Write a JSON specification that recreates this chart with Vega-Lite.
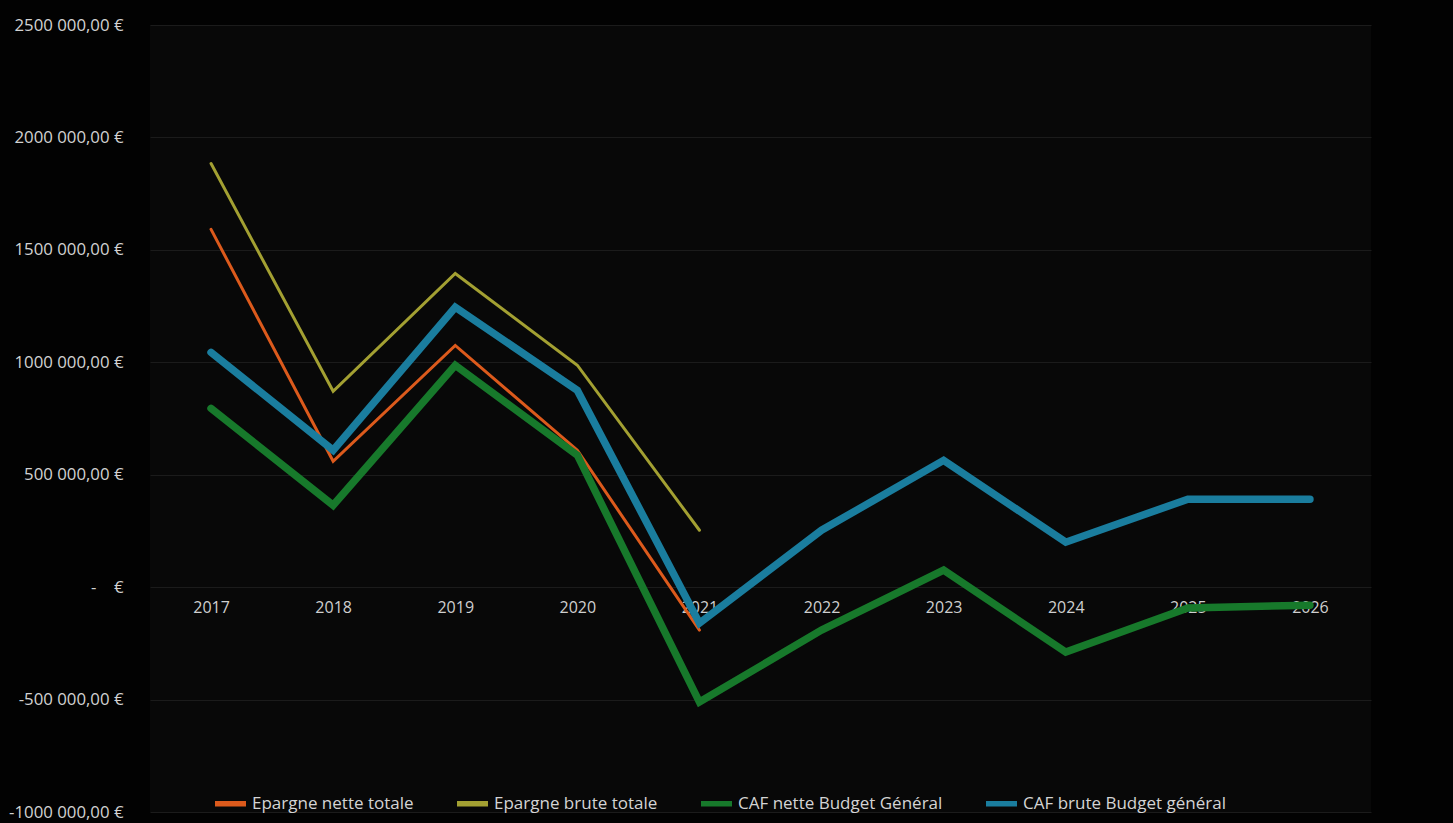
{
  "$schema": "https://vega.github.io/schema/vega-lite/v6.json",
  "autosize": {"type": "none"},
  "width": 1221,
  "height": 787,
  "padding": {"left": 150, "top": 25, "right": 82, "bottom": 11},
  "background": "#020202",
  "config": {
    "view": {"stroke": null, "fill": "#080808"},
    "font": "Open Sans",
    "axis": {"labelFont": "Open Sans", "labelColor": "#d2d2d2", "labelFontSize": 15}
  },
  "data": {
    "values": [
      {"annee": "2017", "serie": "Epargne nette totale", "montant": 1591000},
      {"annee": "2018", "serie": "Epargne nette totale", "montant": 560000},
      {"annee": "2019", "serie": "Epargne nette totale", "montant": 1075000},
      {"annee": "2020", "serie": "Epargne nette totale", "montant": 609000},
      {"annee": "2021", "serie": "Epargne nette totale", "montant": -191000},
      {"annee": "2017", "serie": "Epargne brute totale", "montant": 1884000},
      {"annee": "2018", "serie": "Epargne brute totale", "montant": 871000},
      {"annee": "2019", "serie": "Epargne brute totale", "montant": 1395000},
      {"annee": "2020", "serie": "Epargne brute totale", "montant": 987000},
      {"annee": "2021", "serie": "Epargne brute totale", "montant": 253000},
      {"annee": "2017", "serie": "CAF nette Budget Général", "montant": 795000},
      {"annee": "2018", "serie": "CAF nette Budget Général", "montant": 364000},
      {"annee": "2019", "serie": "CAF nette Budget Général", "montant": 987000},
      {"annee": "2020", "serie": "CAF nette Budget Général", "montant": 587000},
      {"annee": "2021", "serie": "CAF nette Budget Général", "montant": -511000},
      {"annee": "2022", "serie": "CAF nette Budget Général", "montant": -191000},
      {"annee": "2023", "serie": "CAF nette Budget Général", "montant": 76000},
      {"annee": "2024", "serie": "CAF nette Budget Général", "montant": -289000},
      {"annee": "2025", "serie": "CAF nette Budget Général", "montant": -93000},
      {"annee": "2026", "serie": "CAF nette Budget Général", "montant": -80000},
      {"annee": "2017", "serie": "CAF brute Budget général", "montant": 1044000},
      {"annee": "2018", "serie": "CAF brute Budget général", "montant": 609000},
      {"annee": "2019", "serie": "CAF brute Budget général", "montant": 1245000},
      {"annee": "2020", "serie": "CAF brute Budget général", "montant": 875000},
      {"annee": "2021", "serie": "CAF brute Budget général", "montant": -160000},
      {"annee": "2022", "serie": "CAF brute Budget général", "montant": 253000},
      {"annee": "2023", "serie": "CAF brute Budget général", "montant": 564000},
      {"annee": "2024", "serie": "CAF brute Budget général", "montant": 200000},
      {"annee": "2025", "serie": "CAF brute Budget général", "montant": 391000},
      {"annee": "2026", "serie": "CAF brute Budget général", "montant": 391000}
    ]
  },
  "encoding": {
    "x": {
      "field": "annee",
      "type": "ordinal",
      "title": null,
      "axis": {
        "labelAngle": 0,
        "ticks": false,
        "domain": false,
        "offset": -225,
        "labelPadding": 12,
        "labelFontSize": 16,
        "labelColor": "#cfcfcf"
      }
    },
    "y": {
      "field": "montant",
      "type": "quantitative",
      "title": null,
      "scale": {"domain": [-1000000, 2500000], "nice": false, "zero": false},
      "axis": {
        "values": [-1000000, -500000, 0, 500000, 1000000, 1500000, 2000000, 2500000],
        "ticks": false,
        "domain": false,
        "labelPadding": 27,
        "labelFontSize": 16.8,
        "gridColor": "#1b1b1b",
        "gridWidth": 1,
        "labelExpr": "datum.value == 0 ? '-\u00a0\u00a0\u00a0\u00a0€' : '' + (datum.value / 1000) + ' 000,00 €'"
      }
    },
    "color": {
      "field": "serie",
      "type": "nominal",
      "sort": null,
      "scale": {
        "domain": ["Epargne nette totale", "Epargne brute totale", "CAF nette Budget Général", "CAF brute Budget général"],
        "range": ["#dc5a1c", "#a3a032", "#17792b", "#1a7d9e"]
      },
      "legend": {
        "title": null,
        "orient": "none",
        "direction": "horizontal",
        "legendX": 62,
        "legendY": 760,
        "symbolType": "stroke",
        "symbolSize": 961,
        "symbolStrokeWidth": 5.5,
        "labelFont": "Open Sans",
        "labelFontSize": 17,
        "labelLimit": 400,
        "labelColor": "#d4d4d4",
        "labelOffset": 3,
        "columnPadding": 32
      }
    }
  },
  "layer": [
    {
      "transform": [{"filter": "indexof(['Epargne nette totale', 'Epargne brute totale'], datum.serie) >= 0"}],
      "mark": {"type": "line", "strokeWidth": 3, "strokeCap": "round"}
    },
    {
      "transform": [{"filter": "indexof(['CAF nette Budget Général', 'CAF brute Budget général'], datum.serie) >= 0"}],
      "mark": {"type": "line", "strokeWidth": 7.5, "strokeCap": "round"}
    }
  ]
}
